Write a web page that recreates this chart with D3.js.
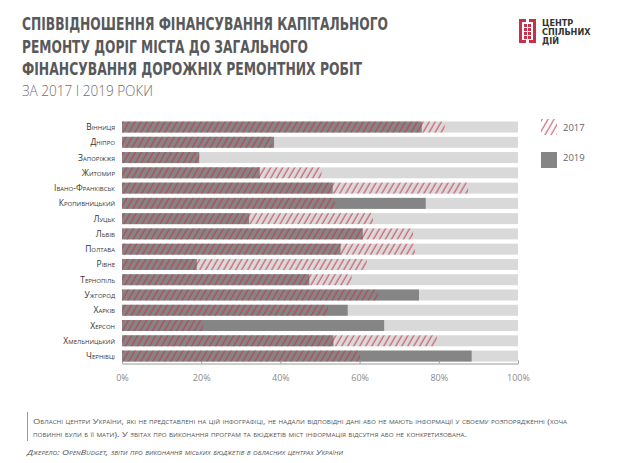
<!DOCTYPE html>
<html>
<head>
<meta charset="utf-8">
<script src="https://cdn.jsdelivr.net/npm/d3@7"></script>
<style>
  body { margin: 0; background: #fff; }
  svg { display: block; }
  .city { font-family: "Open Sans", sans-serif; font-size: 8.5px; font-variant: small-caps; fill: #333; }
  .tick text { font-family: "Open Sans", sans-serif; font-size: 9px; fill: #8a8a8a; }
</style>
</head>
<body>
<div id="chart"></div>
<script>
// міста (зверху вниз)
const cities = ["Вінниця", "Дніпро", "Запоріжжя", "Житомир", "Івано-Франківськ", "Кропивницький",
  "Луцьк", "Львів", "Полтава", "Рівне", "Тернопіль", "Ужгород", "Харків", "Херсон",
  "Хмельницький", "Чернівці"];
// частка капремонту у %, 2017 (штрихування) та 2019 (сірий)
const values2017 = [81.5, 38, 19.5, 50.4, 87.4, 53.8, 63.4, 73.5, 74, 61.8, 58, 64.6, 52, 20.5, 79.5, 60.1];
const values2019 = [75.7, 38.4, 19.5, 34.8, 53.2, 76.7, 32.1, 60.8, 55.2, 18.9, 47.3, 75, 57, 66.2, 53.4, 88.3];
const tickValues = [0, 20, 40, 60, 80, 100];
const years = ["2017", "2019"];

const titleLines = ["СПІВВІДНОШЕННЯ ФІНАНСУВАННЯ КАПІТАЛЬНОГО",
  "РЕМОНТУ ДОРІГ МІСТА ДО ЗАГАЛЬНОГО",
  "ФІНАНСУВАННЯ ДОРОЖНІХ РЕМОНТНИХ РОБІТ"];
const subtitle = "ЗА 2017 І 2019 РОКИ";
const noteLines = ["Обласні центри України, які не представлені на цій інфографіці, не надали відповідні дані або не мають інформації у своєму розпорядженні (хоча",
  "повинні були б її мати). У звітах про виконання програм та бюджетів міст інформація відсутня або не конкретизована."];
const source = "Джерело: OpenBudget, звіти про виконання міських бюджетів в обласних центрах України";

const width = 629, height = 463;
const red = "#c8304a", dark = "#858585", light = "#d9d9d9";

const svg = d3.select("#chart").append("svg")
  .attr("width", width)
  .attr("height", height);

// hatch for 2017
const defs = svg.append("defs");
defs.append("pattern")
  .attr("id", "hatch")
  .attr("patternUnits", "userSpaceOnUse")
  .attr("width", 5.2).attr("height", 10)
  .attr("patternTransform", "rotate(30)")
  .append("line")
  .attr("x1", 1).attr("y1", 0).attr("x2", 1).attr("y2", 10)
  .attr("stroke", red).attr("stroke-width", 0.9);

// title
const titleW = [366, 286, 340];
svg.append("g").selectAll("text")
  .data(titleLines)
  .enter().append("text")
  .attr("x", 22)
  .attr("y", (d, i) => 30 + i * 22.5)
  .attr("textLength", (d, i) => titleW[i])
  .attr("lengthAdjust", "spacingAndGlyphs")
  .style("font-family", "'Liberation Sans Narrow', 'DejaVu Sans Condensed', sans-serif")
  .style("font-weight", "bold")
  .style("font-size", "17px")
  .style("fill", "#58595b")
  .text(d => d);

svg.append("text")
  .attr("x", 22).attr("y", 96)
  .attr("textLength", 131)
  .attr("lengthAdjust", "spacingAndGlyphs")
  .style("font-family", "'Open Sans', sans-serif")
  .style("font-weight", "300")
  .style("font-size", "15px")
  .style("fill", "#6d6e71")
  .text(subtitle);

// logo
const logo = svg.append("g").attr("transform", "translate(519,19)");
logo.append("rect").attr("x", 0).attr("y", 0).attr("width", 17).attr("height", 3).attr("fill", red);
[[0, 3], [14, 3]].forEach(p => logo.append("rect").attr("x", p[0]).attr("y", p[1]).attr("width", 3).attr("height", 21).attr("fill", red));
logo.append("rect").attr("x", 0).attr("y", 21).attr("width", 17).attr("height", 3).attr("fill", red);
d3.range(4).forEach(r => d3.range(2).forEach(c => {
  logo.append("rect").attr("x", 5 + c * 4).attr("y", 5 + r * 4).attr("width", 3).attr("height", 3).attr("fill", red);
}));
logo.append("rect").attr("x", 7).attr("y", 0).attr("width", 3).attr("height", 3).attr("fill", "#fff");
logo.append("rect").attr("x", 7).attr("y", 21).attr("width", 3).attr("height", 3).attr("fill", "#fff");
logo.selectAll("text.logo")
  .data(["ЦЕНТР", "СПІЛЬНИХ", "ДІЙ"])
  .enter().append("text")
  .attr("x", 23)
  .attr("y", (d, i) => 7 + i * 9)
  .style("font-family", "'DejaVu Sans Condensed', 'Liberation Sans Narrow', sans-serif")
  .style("font-weight", "bold")
  .style("font-size", "9px")
  .style("fill", "#333")
  .text(d => d);

// scales
const x = d3.scaleLinear().domain([0, 100]).range([122, 518]);
const y = d3.scaleBand().domain(cities).range([119.4, 363.7]).paddingInner(0.28).paddingOuter(0.14);

const rows = svg.append("g").selectAll("g")
  .data(cities)
  .enter().append("g");

rows.append("rect")
  .attr("x", x(0)).attr("y", d => y(d))
  .attr("width", x(100) - x(0)).attr("height", y.bandwidth())
  .attr("fill", light);

rows.append("rect")
  .attr("x", x(0)).attr("y", d => y(d))
  .attr("width", (d, i) => x(values2019[i]) - x(0)).attr("height", y.bandwidth())
  .attr("fill", dark);

rows.append("rect")
  .attr("x", x(0)).attr("y", d => y(d))
  .attr("width", (d, i) => x(values2017[i]) - x(0)).attr("height", y.bandwidth())
  .attr("fill", "url(#hatch)");

rows.append("text")
  .attr("class", "city")
  .attr("x", 115)
  .attr("y", d => y(d) + y.bandwidth() / 2)
  .attr("dy", "0.35em")
  .attr("text-anchor", "end")
  .text(d => d);

// axis
const axis = svg.append("g")
  .attr("transform", "translate(0,363.5)")
  .call(d3.axisBottom(x).tickValues(tickValues).tickFormat(d => d + "%").tickSizeInner(-3).tickSizeOuter(0).tickPadding(11));
axis.select(".domain").attr("stroke", "#999");
axis.selectAll(".tick line").attr("stroke", "#999");

// legend
const legend = svg.append("g").attr("transform", "translate(541,119)");
legend.append("rect").attr("width", 16).attr("height", 16).attr("fill", "url(#hatch)");
legend.append("rect").attr("y", 33).attr("width", 16).attr("height", 16).attr("fill", dark);
legend.selectAll("text")
  .data(years)
  .enter().append("text")
  .attr("x", 22)
  .attr("y", (d, i) => 12 + i * 30)
  .style("font-family", "'Open Sans', sans-serif")
  .style("font-size", "9.5px")
  .style("fill", "#666")
  .text(d => d);

// note
svg.append("rect").attr("x", 27).attr("y", 412).attr("width", 1).attr("height", 29).attr("fill", "#999");
const noteW = [534, 434];
svg.append("g").selectAll("text")
  .data(noteLines)
  .enter().append("text")
  .attr("x", 33)
  .attr("y", (d, i) => 424 + i * 13)
  .attr("textLength", (d, i) => noteW[i])
  .attr("lengthAdjust", "spacingAndGlyphs")
  .style("font-family", "'Open Sans', sans-serif")
  .style("font-size", "7.5px")
  .style("font-variant", "small-caps")
  .style("fill", "#555")
  .text(d => d);

svg.append("text")
  .attr("x", 27).attr("y", 455)
  .attr("textLength", 316)
  .attr("lengthAdjust", "spacingAndGlyphs")
  .style("font-family", "'Open Sans', sans-serif")
  .style("font-size", "7.5px")
  .style("font-style", "italic")
  .style("font-variant", "small-caps")
  .style("fill", "#555")
  .text(source);
</script>
</body>
</html>
